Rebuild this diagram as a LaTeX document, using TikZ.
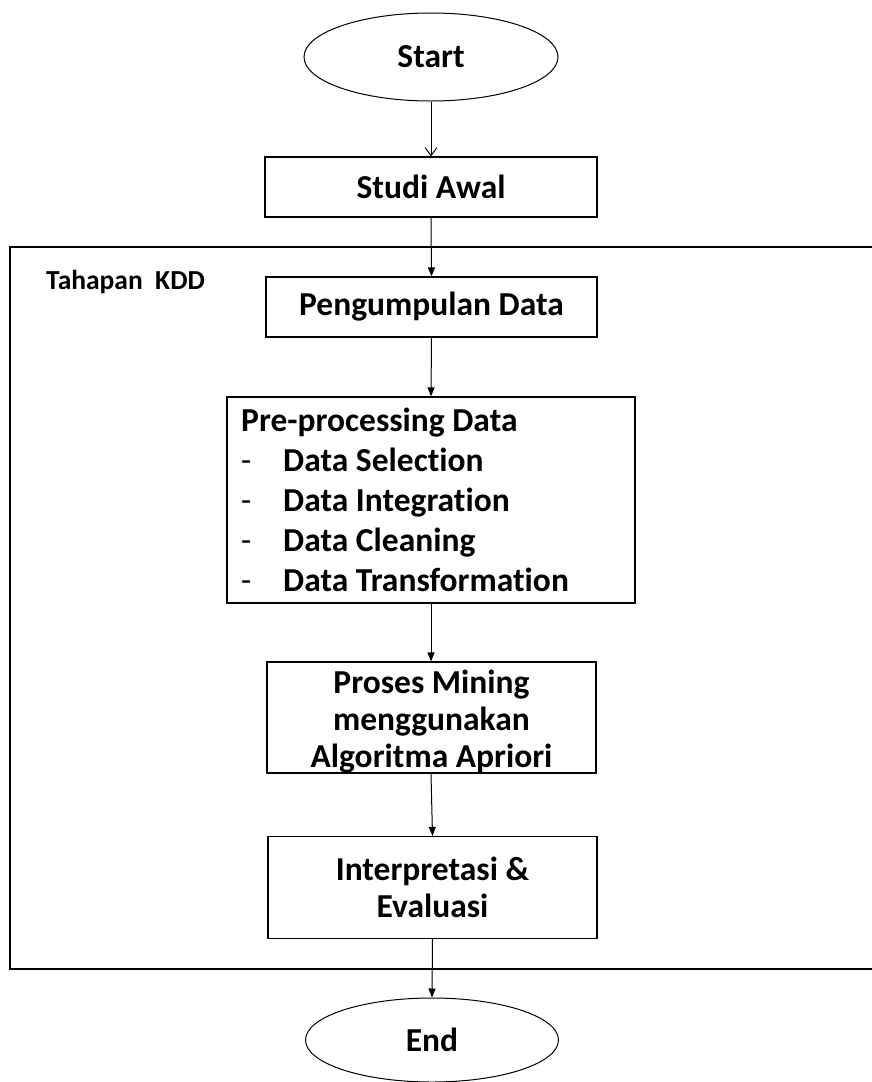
\documentclass[tikz,border=0pt]{standalone}
\usepackage{fontspec}
\setmainfont{Carlito}[Ligatures={NoCommon}]
\usetikzlibrary{shapes.geometric,arrows.meta}
\begin{document}
\begin{tikzpicture}[x=1pt,y=-1pt,
  every node/.style={font=\bfseries\fontsize{33.5}{37}\selectfont, inner sep=0pt},
  term/.style={ellipse, draw, line width=1pt, minimum width=254pt, minimum height=88pt},
  proc/.style={draw, line width=1.2pt, align=center},
  flow/.style={line width=1pt, -{Triangle[length=9pt,width=7pt]}},
  firstflow/.style={line width=1pt, -{Straight Barb[length=8pt,width=12pt]}},
  frame/.style={draw, line width=1.6pt}]
  \clip (0,0) rectangle (872,1082);
  \useasboundingbox (0,0) rectangle (872,1082);

  % KDD stage frame, running off the right edge
  \draw[frame] (10,247) rectangle (900,969);
  \node[anchor=west, font=\bfseries\fontsize{27.5}{32}\selectfont] (kddlabel) at (46,282) {Tahapan\ \ KDD};

  % flow nodes
  \node[term] (start) at (431,57) {Start};
  \node[proc, minimum width=332pt, minimum height=60pt] (studi) at (431,187) {Studi Awal};
  \node[proc, minimum width=331pt, minimum height=60pt] (kumpul) at (431.5,307) {Pengumpulan Data};
  \node[proc, minimum width=408pt, minimum height=206pt] (pre) at (431,500) {};
  \node[anchor=north west, align=left, font=\bfseries\fontsize{33.5}{40}\selectfont] (pretext) at (241,408)
    {Pre-processing Data\\
     \makebox[42pt][l]{\mdseries -}Data Selection\\
     \makebox[42pt][l]{\mdseries -}Data Integration\\
     \makebox[42pt][l]{\mdseries -}Data Cleaning\\
     \makebox[42pt][l]{\mdseries -}Data Transformation};
  \node[proc, minimum width=329pt, minimum height=111pt, text depth=0pt] (mining) at (431.5,717.5) {};
  \node[align=center] (miningtext) at (431.5,722)
    {Proses Mining\\menggunakan\\Algoritma Apriori};
  \node[proc, minimum width=329pt, minimum height=102pt] (interp) at (432.5,887.5)
    {Interpretasi \&\\Evaluasi};
  \node[term, minimum width=253pt, minimum height=84pt] (end) at (432,1040) {End};

  % connectors
  \draw[firstflow] (start.south) -- (studi.north);
  \draw[flow] (studi.south) -- (kumpul.north);
  \draw[flow] (kumpul.south) -- (pre.north);
  \draw[flow] (pre.south) -- (mining.north -| pre.south);
  \draw[flow] (mining.south -| pre.south) -- (interp.north);
  \draw[flow] (interp.south) -- (end.north);
\end{tikzpicture}
\end{document}
